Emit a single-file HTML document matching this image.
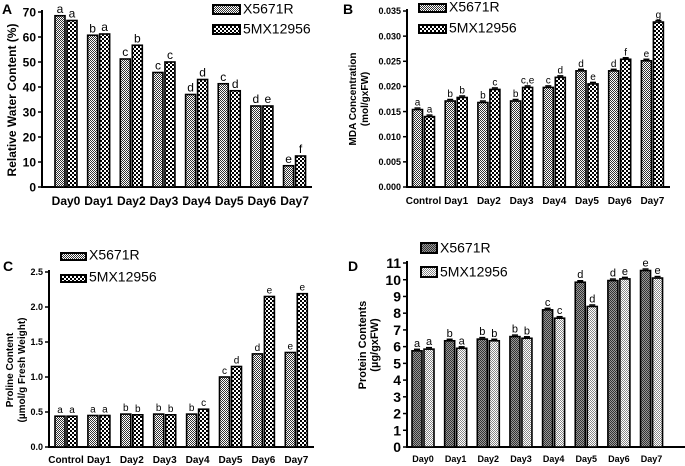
<!DOCTYPE html>
<html><head><meta charset="utf-8"><style>
body{margin:0;background:#fff;}
svg{display:block;font-family:"Liberation Sans",Arial,sans-serif;}
</style></head><body>
<svg id="chart" width="685" height="466" viewBox="0 0 685 466" xmlns="http://www.w3.org/2000/svg">
<defs>
<pattern id="fine" width="2" height="2" patternUnits="userSpaceOnUse"><rect width="2" height="2" fill="#fff"/><rect width="1" height="1" fill="#333"/><rect x="1" y="1" width="1" height="1" fill="#333"/></pattern>
<pattern id="coarse" width="4" height="4" patternUnits="userSpaceOnUse"><rect width="4" height="4" fill="#fff"/><rect width="2" height="2" fill="#000"/><rect x="2" y="2" width="2" height="2" fill="#000"/></pattern>
<pattern id="dark" width="2" height="2" patternUnits="userSpaceOnUse"><rect width="2" height="2" fill="#999"/><rect width="1" height="1" fill="#333"/><rect x="1" y="1" width="1" height="1" fill="#333"/></pattern>
<pattern id="light" width="2" height="2" patternUnits="userSpaceOnUse"><rect width="2" height="2" fill="#fff"/><rect width="1" height="1" fill="#888"/><rect x="1" y="1" width="1" height="1" fill="#888"/></pattern>
</defs>
</svg>
<script>
const catsA = ["Day0","Day1","Day2","Day3","Day4","Day5","Day6","Day7"];
const aX = [68.5,60.7,51.2,45.8,37,41.3,32.4,8.5];
const aM = [66.6,61.2,56.7,50,43,38.5,32.4,12.4];
const aLX = ["a","b","c","c","d","c","d","e"];
const aLM = ["a","a","b","c","d","d","e","f"];
const ticksA = [0,10,20,30,40,50,60,70];

const catsB = ["Control","Day1","Day2","Day3","Day4","Day5","Day6","Day7"];
const bX = [0.0154,0.0171,0.0168,0.0171,0.0198,0.0231,0.0231,0.0251];
const bM = [0.0140,0.0178,0.0194,0.0198,0.0218,0.0205,0.0254,0.0328];
const bLX = ["a","b","b","b","c","d","d","e"];
const bLM = ["a","b","c","c,e","d","e","f","g"];
const ticksB = [0,0.005,0.010,0.015,0.020,0.025,0.030,0.035];
const tickLabelsB = ["0.000","0.005","0.010","0.015","0.020","0.025","0.030","0.035"];

const catsC = ["Control","Day1","Day2","Day3","Day4","Day5","Day6","Day7"];
const cX = [0.44,0.45,0.47,0.47,0.47,1.0,1.33,1.35];
const cM = [0.44,0.45,0.46,0.46,0.54,1.15,2.15,2.19];
const cLX = ["a","a","b","b","b","c","d","e"];
const cLM = ["a","a","b","b","c","d","e","e"];
const ticksC = [0,0.5,1.0,1.5,2.0,2.5];
const tickLabelsC = ["0.0","0.5","1.0","1.5","2.0","2.5"];

const catsD = ["Day0","Day1","Day2","Day3","Day4","Day5","Day6","Day7"];
const dX = [5.75,6.35,6.45,6.6,8.2,9.85,9.95,10.55];
const dM = [5.85,5.9,6.35,6.5,7.7,8.4,10.05,10.1];
const dLX = ["a","b","b","b","c","d","d","e"];
const dLM = ["a","a","b","b","c","d","e","e"];
const ticksD = [0,1,2,3,4,5,6,7,8,9,10,11];

const svg = document.getElementById('chart');
const NS = "http://www.w3.org/2000/svg";
function mk(tag, attrs, parent, text){
  const e = document.createElementNS(NS, tag);
  for (const k in attrs) e.setAttribute(k, attrs[k]);
  if (text !== undefined) e.textContent = text;
  (parent||svg).appendChild(e);
  return e;
}

function panel(o){
  const g = mk('g', {});
  
  
  const y = v => o.y0 - (v / o.ymax) * (o.y0 - o.ytop);
  const cx = i => o.c0 + i * o.step;
  const ax = mk('line', {x1:o.ax, y1:o.ytop-2, x2:o.ax, y2:o.y0+1, stroke:'#000','stroke-width':2}, g);
  
  
  const xa = mk('line', {x1:o.ax-1, y1:o.y0, x2:o.xr, y2:o.y0, stroke:'#000','stroke-width':2}, g);
  
  
  o.ticks.forEach((t, i) => {
    mk('line', {x1:o.ax-4, y1:y(t), x2:o.ax, y2:y(t), stroke:'#000','stroke-width':1.5}, g);
    const tl = mk('text', {x:o.ax-6, y:y(t)+o.tfs*0.36, 'text-anchor':'end','font-size':o.tfs,'font-weight':'bold'}, g, o.tickLabels ? o.tickLabels[i] : String(t));
    
    
  });
  o.cats.forEach((c, i) => {
    const t = mk('text', {x:cx(i), y:o.xly, 'text-anchor':'middle','font-size':o.xfs,'font-weight':'bold'}, g, c);
    
    
    [[o.sx, o.lx, o.f1, -1],[o.sm, o.lm, o.f2, 1]].forEach(([vals, labs, fill, side], s) => {
      const v = vals[i];
      const bx = side < 0 ? cx(i) - 1 - o.bw : cx(i) + 1;
      const r = mk('rect', {x:bx, y:y(v), width:o.bw, height:o.y0 - y(v), fill:'url(#'+fill+')', stroke:'#000','stroke-width':1.6}, g);
      
      
      if (o.err) mk('line', {x1:bx+2, y1:y(v)-1.5, x2:bx+o.bw-2, y2:y(v)-1.5, stroke:'#000','stroke-width':1.5}, g);
      const lt = mk('text', {x:bx+o.bw/2, y:y(v)-(o.err?4:3), 'text-anchor':'middle','font-size':o.lfs}, g, labs[i]);
      
      
    });
  });
  o.ylab.forEach((line, k) => {
    const yl = mk('text', {x:0, y:0, transform:'translate('+(o.ylx + k*o.ylstep)+','+o.yly+') rotate(-90)', 'text-anchor':'middle','font-size':o.yfs,'font-weight':'bold'}, g, line);
    
    
  });
  const pl = mk('text', {x:o.plx, y:o.ply, 'font-size':14,'font-weight':'bold'}, g, o.id.toUpperCase());
  
  
  [['X5671R', o.f1],['5MX12956', o.f2]].forEach(([name, f], k) => {
    const lg = mk('g', {}, g);
    
    
    mk('rect', {x:o.lgx, y:o.lgy + k*o.lgstep, width:o.lgw, height:o.lgh, fill:'url(#'+f+')', stroke:'#000','stroke-width':2}, lg);
    mk('text', {x:o.lgx+o.lgw+3, y:o.lgy + k*o.lgstep + o.lgh - 0.5, 'font-size':14}, lg, name);
  });
}

panel({id:'a', cats:catsA, sx:aX, sm:aM, lx:aLX, lm:aLM, ticks:ticksA, ymax:70, y0:187, ytop:12, ax:42, xr:312, c0:66, step:32.65, bw:10, f1:'fine', f2:'coarse', err:false, tfs:12, xfs:12, xly:205, lfs:12,
  ylab:['Relative Water Content (%)'], ylx:16, ylstep:0, yly:100, yfs:12, plx:2, ply:14, lgx:213, lgy:5, lgstep:20, lgw:27, lgh:9});
panel({id:'b', cats:catsB, sx:bX, sm:bM, lx:bLX, lm:bLM, ticks:ticksB, tickLabels:tickLabelsB, ymax:0.035, y0:187, ytop:11, ax:407, xr:670, c0:423.5, step:32.7, bw:10, f1:'fine', f2:'coarse', err:true, tfs:9, xfs:10, xly:204, lfs:10,
  ylab:['MDA Concentration','(mol/gxFW)'], ylx:356, ylstep:12, yly:99, yfs:10, plx:343, ply:14, lgx:419, lgy:4, lgstep:21, lgw:27, lgh:8});
panel({id:'c', cats:catsC, sx:cX, sm:cM, lx:cLX, lm:cLM, ticks:ticksC, tickLabels:tickLabelsC, ymax:2.5, y0:447, ytop:272, ax:49, xr:314, c0:66, step:32.9, bw:10, f1:'fine', f2:'coarse', err:false, tfs:9, xfs:10, xly:463, lfs:10,
  ylab:['Proline Content','(µmol/g Fresh Weight)'], ylx:13, ylstep:12, yly:370, yfs:10, plx:3, ply:271, lgx:61, lgy:253, lgstep:22, lgw:25, lgh:7});
panel({id:'d', cats:catsD, sx:dX, sm:dM, lx:dLX, lm:dLM, ticks:ticksD, ymax:11, y0:447, ytop:263, ax:407, xr:685, c0:423, step:32.65, bw:10, f1:'dark', f2:'light', err:true, tfs:14, xfs:9, xly:462, lfs:11,
  ylab:['Protein Contents','(µg/gxFW)'], ylx:366, ylstep:12, yly:345, yfs:11, plx:348, ply:271, lgx:421, lgy:243, lgstep:24, lgw:16, lgh:10});
</script>
</body></html>
